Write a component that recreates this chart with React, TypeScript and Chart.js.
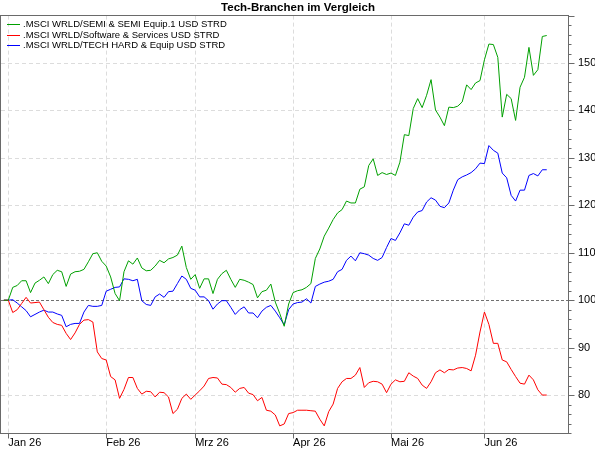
import React, { useEffect, useRef } from 'react';
import { Chart, registerables } from 'chart.js';

Chart.register(...registerables);

const TITLE = 'Tech-Branchen im Vergleich';
const seriesNames = [
  '.MSCI WRLD/SEMI & SEMI Equip.1 USD STRD',
  '.MSCI WRLD/Software & Services USD STRD',
  '.MSCI WRLD/TECH HARD & Equip USD STRD',
];
const seriesColors = ['#00a000', '#ff0000', '#0000ff'];

// x axis: trading-day index, 0 = first weekday of January 2026
const firstDay = -1;
const monthTickDays = [0, 22, 42, 64, 86, 107];
const monthTickLabels = ['Jan 26', 'Feb 26', 'Mrz 26', 'Apr 26', 'Mai 26', 'Jun 26'];
const yMajorTicks = [80, 90, 100, 110, 120, 130, 140, 150];

const semiValues = [
  100, 100, 102.7, 103.1, 104.1, 104.1, 101.6, 103.6, 104.2, 104.9,
  103.5, 105.4, 106.3, 106.0, 102.9, 105.5, 106.0, 106.1, 106.5, 108.1,
  109.8, 110.0, 108.2, 107.2, 104.9, 101.4, 99.9, 106.0, 108.3, 107.6,
  108.9, 106.8, 106.2, 106.3, 107.2, 108.4, 107.9, 108.7, 109.0, 109.5,
  111.4, 106.9, 104.4, 105.4, 102.5, 104.5, 104.5, 101.4, 104.4, 105.6,
  106.3, 104.4, 102.7, 104.4, 104.2, 103.8, 103.3, 100.5, 101.8, 102.1,
  103.4, 99.6, 97.2, 94.5, 99.2, 101.6, 102.0, 102.2, 102.7, 103.5,
  108.8, 110.8, 113.5, 115.2, 117.0, 118.4, 119.1, 120.9, 120.5, 120.5,
  123.4, 123.9, 128.4, 129.8, 126.3, 126.9, 126.5, 126.8, 126.3, 129.1,
  134.9, 134.7, 140.4, 142.5, 140.6, 143.2, 146.5, 140.1, 138.6, 136.8,
  140.7, 140.6, 140.9, 141.8, 145.4, 144.4, 145.8, 146.3, 150.7, 154.0,
  153.9, 151.2, 138.6, 143.4, 142.5, 137.9, 144.9, 147.0, 153.3, 147.4,
  148.6, 155.6, 155.8,
];

const softwareValues = [
  100, 100, 97.4, 98.0, 99.3, 100.6, 99.4, 99.5, 99.6, 98.0,
  96.4, 95.3, 94.9, 94.7, 93.0, 91.7, 93.1, 94.9, 95.8, 95.9,
  95.4, 89.1, 87.7, 87.4, 83.9, 83.2, 79.3, 81.2, 83.7, 83.7,
  81.4, 80.2, 80.8, 80.7, 79.6, 80.6, 80.5, 79.6, 76.1, 77.0,
  79.3, 80.2, 79.1, 80.0, 80.9, 81.9, 83.5, 83.7, 83.6, 82.3,
  82.2, 81.6, 80.6, 81.4, 81.6, 80.4, 80.1, 78.8, 79.5, 76.8,
  76.6, 75.8, 73.5, 73.9, 76.1, 76.3, 76.8, 76.8, 76.8, 76.7,
  76.6, 74.9, 73.5, 76.5, 78.1, 81.4, 82.8, 83.5, 83.5, 84.2,
  85.8, 81.6, 82.6, 82.9, 82.8, 82.3, 80.5, 82.3, 83.2, 82.8,
  82.9, 84.7, 84.0, 83.5, 82.1, 81.4, 82.8, 84.7, 85.3, 84.7,
  85.4, 85.3, 85.7, 85.8, 85.6, 85.1, 88.4, 93.3, 97.5, 94.9,
  90.9, 90.9, 87.4, 87.0, 85.4, 83.9, 82.5, 82.3, 84.2, 83.2,
  81.1, 80.0, 80.0,
];

const hardwareValues = [
  100, 100, 100.1, 99.4, 98.6, 97.8, 96.5, 97.0, 97.5, 97.9,
  97.5, 97.5, 97.1, 96.8, 94.4, 94.9, 95.1, 95.1, 97.5, 98.9,
  98.7, 98.7, 98.9, 101.9, 102.3, 102.7, 102.8, 104.5, 104.4, 104.1,
  104.4, 99.9, 99.1, 98.9, 100.7, 101.3, 100.6, 101.8, 101.9, 103.5,
  105.1, 104.4, 102.5, 102.1, 100.7, 100.7, 99.9, 98.1, 99.2, 99.9,
  99.9, 98.5, 97.0, 98.0, 98.6, 97.3, 97.3, 96.3, 97.7, 98.5,
  98.9, 97.7, 96.3, 94.8, 98.0, 99.2, 99.5, 99.6, 100.3, 99.4,
  102.9, 103.4, 103.8, 104.0, 104.4, 106.0, 106.5, 108.4, 109.3, 108.3,
  110.0, 109.8, 109.5, 108.8, 108.4, 109.0, 111.1, 113.0, 112.6, 114.2,
  116.1, 115.8, 117.5, 118.6, 118.9, 120.7, 121.6, 121.1, 119.8, 119.5,
  120.5, 123.2, 125.4, 126.0, 126.4, 126.9, 127.7, 128.9, 128.8, 132.6,
  131.6, 131.0, 126.8, 125.8, 122.1, 120.9, 123.2, 123.2, 126.3, 126.7,
  126.2, 127.5, 127.5,
];

const FONT = "'Liberation Sans', Arial, sans-serif";

const decorPlugin = {
  id: 'decor',
  beforeDatasetsDraw(chart: any) {
    const { ctx, chartArea: a, scales } = chart;
    const x = scales.x;
    const y = scales.y;
    ctx.save();
    ctx.lineWidth = 1;
    ctx.strokeStyle = '#dcdcdc';
    ctx.setLineDash([4, 3]);
    for (const d of monthTickDays) {
      const px = Math.round(x.getPixelForValue(d)) + 0.5;
      ctx.beginPath();
      ctx.moveTo(px, a.top);
      ctx.lineTo(px, a.bottom);
      ctx.stroke();
    }
    for (const v of yMajorTicks) {
      if (v === 100) continue;
      const py = Math.round(y.getPixelForValue(v)) + 0.5;
      ctx.beginPath();
      ctx.moveTo(a.left, py);
      ctx.lineTo(a.right, py);
      ctx.stroke();
    }
    ctx.strokeStyle = '#707070';
    ctx.setLineDash([3, 2]);
    const p100 = Math.round(y.getPixelForValue(100)) + 0.5;
    ctx.beginPath();
    ctx.moveTo(a.left, p100);
    ctx.lineTo(a.right, p100);
    ctx.stroke();
    ctx.restore();
  },
  afterDraw(chart: any) {
    const { ctx, chartArea: a, scales } = chart;
    const x = scales.x;
    const y = scales.y;
    ctx.save();
    ctx.lineWidth = 1;
    ctx.setLineDash([]);
    ctx.strokeStyle = '#6a6a6a';
    const L = Math.round(a.left) - 0.5;
    const T = Math.round(a.top) - 0.5;
    const R = Math.round(a.right) - 0.5;
    const B = Math.round(a.bottom) + 0.5;
    ctx.strokeRect(L, T, R - L, B - T);
    // x tick marks
    for (const d of monthTickDays) {
      const px = Math.round(x.getPixelForValue(d)) + 0.5;
      ctx.beginPath();
      ctx.moveTo(px, B);
      ctx.lineTo(px, B + 5);
      ctx.stroke();
    }
    // y tick marks (major + minor)
    for (let v = 72; v <= 160; v += 2) {
      const py = Math.round(y.getPixelForValue(v)) + 0.5;
      const len = v % 10 === 0 ? 6 : 3;
      ctx.beginPath();
      ctx.moveTo(R, py);
      ctx.lineTo(R + len, py);
      ctx.stroke();
    }
    // legend
    ctx.font = `9.5px ${FONT}`;
    ctx.textBaseline = 'middle';
    ctx.textAlign = 'left';
    seriesNames.forEach((name, i) => {
      const ly = 24 + i * 10.5;
      ctx.strokeStyle = seriesColors[i];
      ctx.beginPath();
      ctx.moveTo(7, Math.round(ly) + 0.5);
      ctx.lineTo(20, Math.round(ly) + 0.5);
      ctx.stroke();
      ctx.fillStyle = '#000';
      ctx.fillText(name, 23, ly + 0.5);
    });
    ctx.restore();
  },
};

export default function App() {
  const ref = useRef<HTMLCanvasElement | null>(null);

  useEffect(() => {
    if (!ref.current) return;
    const series = [semiValues, softwareValues, hardwareValues];
    const chart = new Chart(ref.current, {
      type: 'line',
      data: {
        datasets: series.map((vals, i) => ({
          label: seriesNames[i],
          data: vals.map((v, k) => ({ x: firstDay + k, y: v })),
          borderColor: seriesColors[i],
          backgroundColor: seriesColors[i],
          borderWidth: 1,
          pointRadius: 0,
          tension: 0,
          fill: false,
        })),
      },
      options: {
        responsive: false,
        maintainAspectRatio: false,
        devicePixelRatio: 1,
        animation: false,
        layout: { padding: { left: 1, top: 0, right: 0, bottom: 0 } },
        plugins: {
          legend: { display: false },
          tooltip: { enabled: false },
          title: {
            display: true,
            text: TITLE,
            color: '#000',
            font: { family: FONT, size: 11.5, weight: 'bold' },
            padding: { top: 0, bottom: 1.2 },
          },
        },
        scales: {
          x: {
            type: 'linear',
            min: -1.64,
            max: 126,
            grid: { display: false, drawTicks: false },
            border: { display: false },
            afterBuildTicks: (scale: any) => {
              scale.ticks = monthTickDays.map((v) => ({ value: v }));
            },
            afterFit: (scale: any) => {
              scale.height = 17;
            },
            ticks: {
              autoSkip: false,
              maxRotation: 0,
              align: 'start',
              padding: 3,
              color: '#000',
              font: { family: FONT, size: 11 },
              callback: (value: any) => monthTickLabels[monthTickDays.indexOf(Number(value))] ?? '',
            },
          },
          y: {
            type: 'linear',
            position: 'right',
            min: 72,
            max: 160,
            grid: { display: false, drawTicks: false },
            border: { display: false },
            afterBuildTicks: (scale: any) => {
              scale.ticks = yMajorTicks.map((v) => ({ value: v }));
            },
            afterFit: (scale: any) => {
              scale.width = 26;
            },
            ticks: {
              autoSkip: false,
              padding: 9,
              color: '#000',
              font: { family: FONT, size: 11 },
              callback: (value: any) => String(value),
            },
          },
        },
      },
      plugins: [decorPlugin],
    } as any);
    return () => chart.destroy();
  }, []);

  return (
    <div style={{ position: 'absolute', left: 0, top: 0, width: 595, height: 450, background: '#fff' }}>
      <canvas ref={ref} width={595} height={450} style={{ display: 'block', width: 595, height: 450 }} />
    </div>
  );
}
